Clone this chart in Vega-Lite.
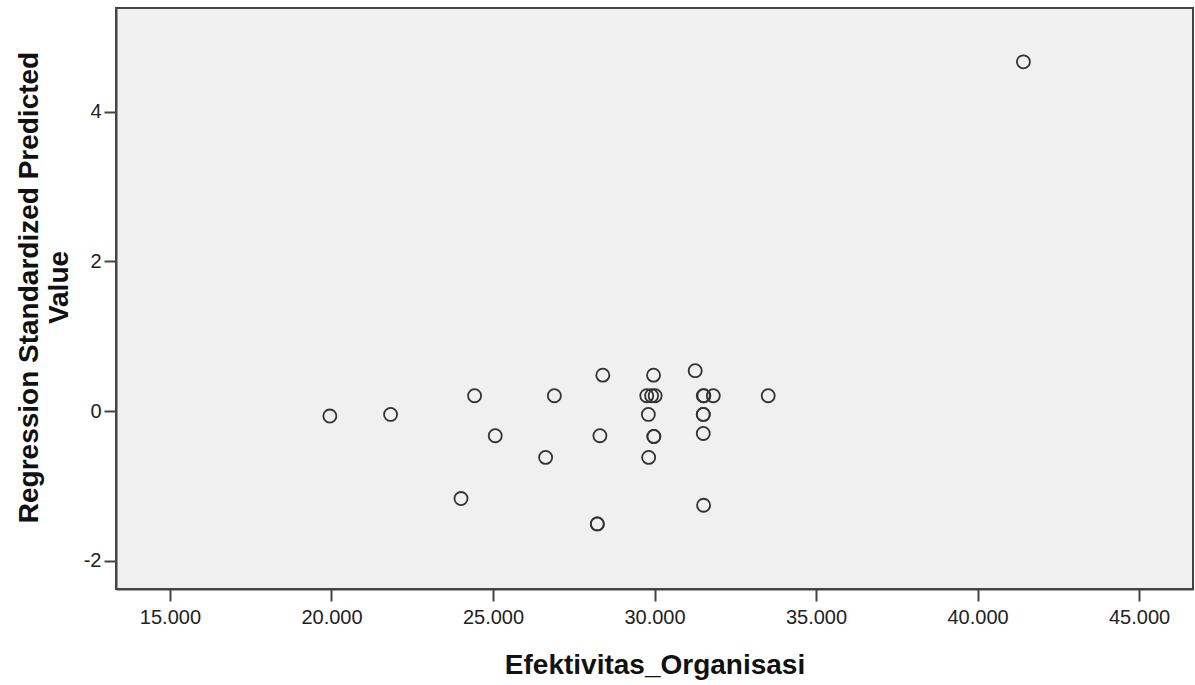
{
  "$schema": "https://vega.github.io/schema/vega-lite/v6.json",
  "autosize": "none",
  "width": 1077,
  "height": 581,
  "padding": {"left": 116, "top": 8, "right": 2, "bottom": 96},
  "background": "white",
  "config": {
    "view": {"fill": "#f0f0f0", "stroke": "#444444", "strokeWidth": 2},
    "font": "Liberation Sans",
    "axis": {
      "grid": false,
      "domainColor": "#444444",
      "domainWidth": 2,
      "tickColor": "#444444",
      "tickWidth": 2,
      "tickSize": 12,
      "labelFont": "Liberation Sans",
      "labelFontSize": 20,
      "labelColor": "#222222",
      "titleFont": "Liberation Sans",
      "titleFontSize": 28,
      "titleFontWeight": "bold",
      "titleColor": "#111111"
    }
  },
  "data": {
    "values": [
      {"x": 19.95, "y": -0.067},
      {"x": 21.83, "y": -0.045},
      {"x": 24.43, "y": 0.205},
      {"x": 26.90, "y": 0.205},
      {"x": 28.40, "y": 0.48},
      {"x": 29.97, "y": 0.48},
      {"x": 31.26, "y": 0.54},
      {"x": 29.76, "y": 0.205},
      {"x": 29.91, "y": 0.205},
      {"x": 30.02, "y": 0.205},
      {"x": 31.51, "y": 0.205},
      {"x": 31.53, "y": 0.205},
      {"x": 31.82, "y": 0.205},
      {"x": 33.52, "y": 0.205},
      {"x": 29.81, "y": -0.045},
      {"x": 31.51, "y": -0.045},
      {"x": 31.51, "y": -0.045},
      {"x": 25.07, "y": -0.33},
      {"x": 28.31, "y": -0.33},
      {"x": 29.98, "y": -0.34},
      {"x": 29.98, "y": -0.34},
      {"x": 31.51, "y": -0.30},
      {"x": 26.63, "y": -0.62},
      {"x": 29.82, "y": -0.62},
      {"x": 24.01, "y": -1.17},
      {"x": 31.52, "y": -1.26},
      {"x": 28.23, "y": -1.51},
      {"x": 28.23, "y": -1.51},
      {"x": 41.42, "y": 4.67}
    ]
  },
  "mark": {"type": "point", "shape": "circle", "filled": false, "size": 170, "stroke": "#333333", "strokeWidth": 1.8, "opacity": 1},
  "encoding": {
    "x": {
      "field": "x",
      "type": "quantitative",
      "title": "Efektivitas_Organisasi",
      "scale": {"domain": [13.33, 46.67], "nice": false, "zero": false},
      "axis": {"values": [15, 20, 25, 30, 35, 40, 45], "format": ".3f", "labelPadding": 6, "titlePadding": 24}
    },
    "y": {
      "field": "y",
      "type": "quantitative",
      "title": ["Regression Standardized Predicted", "Value"],
      "scale": {"domain": [-2.38, 5.39], "nice": false, "zero": false},
      "axis": {"values": [-2, 0, 2, 4], "labelExpr": "datum.value < 0 ? '-' + abs(datum.value) : '' + datum.value", "labelPadding": 3, "titlePadding": 10, "titleY": 279}
    }
  }
}
